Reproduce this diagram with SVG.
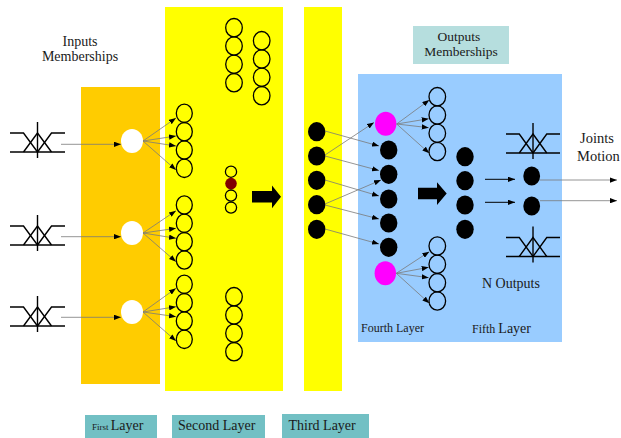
<svg xmlns="http://www.w3.org/2000/svg" width="621" height="438" viewBox="0 0 621 438">
  <style>
    .lbl { font-family: "Liberation Serif", "Times New Roman", serif; fill: #1a1a1a; }
    .ring { fill: none; stroke: #000; stroke-width: 1.3; }
    .dot { fill: #000; }
    .mf path { fill: none; stroke: #000; stroke-width: 1.4; }
    .link { stroke: #7a7a7a; stroke-width: 0.8; fill: none; marker-end: url(#tip); }
    .feed { stroke: #000; stroke-width: 1; fill: none; marker-end: url(#tip); }
    .tag { fill: #72c0c4; }
  </style>
  <defs>
    <marker id="tip" viewBox="0 0 8 6" refX="8" refY="3" markerWidth="7" markerHeight="5.5" markerUnits="userSpaceOnUse" orient="auto">
      <path d="M0,0 L8,3 L0,6 Z" fill="#000"/>
    </marker>
    <!-- three overlapping membership functions (Z, triangle, S) -->
    <g id="mf" class="mf">
      <path d="M0,0 H13.5 L27.5,19"/>
      <path d="M13.5,19 L27.5,0 L41.5,19"/>
      <path d="M27.5,19 L41.5,0 H55"/>
      <path d="M0,19 H55"/>
      <path d="M27.5,-11 V25"/>
    </g>
  </defs>

  <rect width="621" height="438" fill="#fff"/>

  <!-- layer panels -->
  <g id="panel-first"><rect x="81" y="87" width="79" height="297" fill="#ffcc00"/></g>
  <g id="panel-second"><rect x="165" y="7" width="118" height="384" fill="#ffff00"/></g>
  <g id="panel-third"><rect x="304" y="7" width="38" height="384" fill="#ffff00"/></g>
  <g id="panel-out"><rect x="358" y="74" width="204" height="268" fill="#99ccff"/></g>

  <!-- input membership labels and symbols -->
  <g id="inputs">
    <text class="lbl" x="80" y="46" font-size="14" text-anchor="middle">Inputs</text>
    <text class="lbl" x="80" y="61" font-size="14" text-anchor="middle">Memberships</text>
    <use href="#mf" transform="translate(10,133)"/>
    <use href="#mf" transform="translate(10,226)"/>
    <use href="#mf" transform="translate(10,307)"/>
  </g>

  <!-- first layer nodes -->
  <g id="first-layer">
    <ellipse cx="132" cy="141" rx="11" ry="12" fill="#fff"/>
    <ellipse cx="132" cy="233" rx="11" ry="12" fill="#fff"/>
    <ellipse cx="132" cy="312" rx="11" ry="12" fill="#fff"/>
  </g>

  <!-- second layer nodes -->
  <g id="second-layer" class="ring">
    <ellipse cx="184.3" cy="113.3" rx="8" ry="9.2"/>
    <ellipse cx="184.3" cy="131.7" rx="8" ry="9.2"/>
    <ellipse cx="184.3" cy="150" rx="8" ry="9.2"/>
    <ellipse cx="184.3" cy="168.3" rx="8" ry="9.2"/>
    <ellipse cx="184.3" cy="205" rx="8" ry="9.2"/>
    <ellipse cx="184.3" cy="223.3" rx="8" ry="9.2"/>
    <ellipse cx="184.3" cy="241.7" rx="8" ry="9.2"/>
    <ellipse cx="184.3" cy="260" rx="8" ry="9.2"/>
    <ellipse cx="184.3" cy="284.3" rx="8" ry="9.2"/>
    <ellipse cx="184.3" cy="302.7" rx="8" ry="9.2"/>
    <ellipse cx="184.3" cy="321" rx="8" ry="9.2"/>
    <ellipse cx="184.3" cy="339.3" rx="8" ry="9.2"/>

    <ellipse cx="234" cy="27.7" rx="8.3" ry="9.2"/>
    <ellipse cx="234" cy="46" rx="8.3" ry="9.2"/>
    <ellipse cx="234" cy="64.3" rx="8.3" ry="9.2"/>
    <ellipse cx="234" cy="82.7" rx="8.3" ry="9.2"/>
    <ellipse cx="261.7" cy="40.7" rx="8.3" ry="9.2"/>
    <ellipse cx="261.7" cy="59" rx="8.3" ry="9.2"/>
    <ellipse cx="261.7" cy="77.3" rx="8.3" ry="9.2"/>
    <ellipse cx="261.7" cy="95.7" rx="8.3" ry="9.2"/>

    <ellipse cx="234" cy="296.7" rx="8.3" ry="9.2"/>
    <ellipse cx="234" cy="315" rx="8.3" ry="9.2"/>
    <ellipse cx="234" cy="333.3" rx="8.3" ry="9.2"/>
    <ellipse cx="234" cy="351.7" rx="8.3" ry="9.2"/>

    <circle cx="231" cy="171.7" r="5.6"/>
    <circle cx="231" cy="183.6" r="5.8" fill="#800000" stroke="none"/>
    <circle cx="231" cy="195.6" r="5.6"/>
    <circle cx="231" cy="207.6" r="5.6"/>
  </g>

  <!-- block arrows -->
  <g id="arrow-a"><path d="M252,191 H272 V185.5 L281,196.8 L272,208.2 V202.6 H252 Z" fill="#000"/></g>
  <g id="arrow-b"><path d="M418,187.7 H437 V182.2 L446.7,193.5 L437,205 V199.3 H418 Z" fill="#000"/></g>

  <!-- third layer nodes -->
  <g id="third-layer" class="dot">
    <ellipse cx="316.7" cy="131.7" rx="8.7" ry="9.6"/>
    <ellipse cx="316.7" cy="156" rx="8.7" ry="9.6"/>
    <ellipse cx="316.7" cy="180.3" rx="8.7" ry="9.6"/>
    <ellipse cx="316.7" cy="204.7" rx="8.7" ry="9.6"/>
    <ellipse cx="316.7" cy="229.3" rx="8.7" ry="9.6"/>
  </g>

  <!-- fourth layer nodes -->
  <g id="fourth-layer">
    <ellipse cx="385.7" cy="123.7" rx="10.7" ry="12" fill="#ff00ff"/>
    <g class="dot">
      <ellipse cx="388.7" cy="150" rx="8.7" ry="9.6"/>
      <ellipse cx="388.7" cy="174.3" rx="8.7" ry="9.6"/>
      <ellipse cx="388.7" cy="199" rx="8.7" ry="9.6"/>
      <ellipse cx="388.7" cy="223" rx="8.7" ry="9.6"/>
      <ellipse cx="388.7" cy="247.3" rx="8.7" ry="9.6"/>
    </g>
    <ellipse cx="385.3" cy="273.3" rx="10.7" ry="12" fill="#ff00ff"/>
    <g class="ring">
      <ellipse cx="437.3" cy="96.7" rx="8.3" ry="9.2"/>
      <ellipse cx="437.3" cy="115" rx="8.3" ry="9.2"/>
      <ellipse cx="437.3" cy="133.3" rx="8.3" ry="9.2"/>
      <ellipse cx="437.3" cy="151.5" rx="8.3" ry="9.2"/>
      <ellipse cx="437.3" cy="246" rx="8.3" ry="9.2"/>
      <ellipse cx="437.3" cy="264.3" rx="8.3" ry="9.2"/>
      <ellipse cx="437.3" cy="282.7" rx="8.3" ry="9.2"/>
      <ellipse cx="437.3" cy="301" rx="8.3" ry="9.2"/>
    </g>
  </g>

  <!-- fifth layer nodes -->
  <g id="fifth-layer" class="dot">
    <ellipse cx="465" cy="156.7" rx="8.7" ry="9.6"/>
    <ellipse cx="465" cy="180.7" rx="8.7" ry="9.6"/>
    <ellipse cx="465" cy="205" rx="8.7" ry="9.6"/>
    <ellipse cx="465" cy="229.3" rx="8.7" ry="9.6"/>
  </g>

  <!-- output nodes and membership symbols -->
  <g id="outputs">
    <ellipse class="dot" cx="531.7" cy="176" rx="8.4" ry="9.6"/>
    <ellipse class="dot" cx="531.7" cy="206" rx="8.4" ry="9.6"/>
    <use href="#mf" transform="translate(506,134) scale(0.982,1)"/>
    <use href="#mf" transform="translate(506,237.5) scale(0.982,1)"/>
  </g>

  <!-- connectors -->
  <g id="connectors">
    <line class="link" x1="61" y1="144.3" x2="121" y2="144.3"/>
    <line class="link" x1="61" y1="236.7" x2="121" y2="236.7"/>
    <line class="link" x1="61" y1="317.3" x2="121" y2="317.3"/>

    <line class="link" x1="143" y1="141" x2="176" y2="118"/>
    <line class="link" x1="143" y1="141" x2="176" y2="136"/>
    <line class="link" x1="143" y1="141" x2="176" y2="146"/>
    <line class="link" x1="143" y1="141" x2="176" y2="170"/>
    <line class="link" x1="143" y1="233" x2="176" y2="210.7"/>
    <line class="link" x1="143" y1="233" x2="176" y2="228.3"/>
    <line class="link" x1="143" y1="233" x2="176" y2="238.3"/>
    <line class="link" x1="143" y1="233" x2="176" y2="261.7"/>
    <line class="link" x1="143" y1="312" x2="176" y2="288.3"/>
    <line class="link" x1="143" y1="312" x2="176" y2="306.7"/>
    <line class="link" x1="143" y1="312" x2="176" y2="316.7"/>
    <line class="link" x1="143" y1="312" x2="176" y2="341"/>

    <line class="link" x1="325" y1="131" x2="379" y2="146"/>
    <line class="link" x1="325" y1="155" x2="374" y2="122.5"/>
    <line class="link" x1="325" y1="156" x2="379" y2="170.5"/>
    <line class="link" x1="325" y1="180" x2="379" y2="196"/>
    <line class="link" x1="325" y1="204" x2="381" y2="180"/>
    <line class="link" x1="325" y1="205" x2="379" y2="219"/>
    <line class="link" x1="325" y1="229" x2="379" y2="244"/>

    <line class="link" x1="396.7" y1="124" x2="429.3" y2="100"/>
    <line class="link" x1="396.7" y1="124" x2="428.7" y2="118.7"/>
    <line class="link" x1="396.7" y1="124" x2="428.7" y2="127.7"/>
    <line class="link" x1="396.7" y1="124" x2="429.3" y2="153.3"/>
    <line class="link" x1="396.3" y1="273.3" x2="429.3" y2="251.7"/>
    <line class="link" x1="396.3" y1="273.3" x2="428.7" y2="267.3"/>
    <line class="link" x1="396.3" y1="273.3" x2="428.7" y2="277.7"/>
    <line class="link" x1="396.3" y1="273.3" x2="429.3" y2="303.3"/>

    <line class="feed" x1="485" y1="179.3" x2="515" y2="179.3"/>
    <line class="feed" x1="485" y1="202.3" x2="515" y2="202.3"/>

    <line class="link" x1="540" y1="180" x2="617" y2="180"/>
    <line class="link" x1="540" y1="200.7" x2="617" y2="200.7"/>
  </g>

  <!-- panel captions -->
  <g id="cap-outputs">
    <rect x="413" y="26" width="96" height="38" fill="#b6dede"/>
    <text class="lbl" x="459" y="41" font-size="13.5" text-anchor="middle">Outputs</text>
    <text class="lbl" x="461" y="56" font-size="13.5" text-anchor="middle">Memberships</text>
  </g>
  <g id="cap-joints">
    <text class="lbl" x="580" y="143" font-size="14.5">Joints</text>
    <text class="lbl" x="577" y="161" font-size="14.5">Motion</text>
  </g>
  <g id="cap-fourth"><text class="lbl" x="361" y="332" font-size="12">Fourth Layer</text></g>
  <g id="cap-fifth"><text class="lbl" x="472" y="333" font-size="12">Fifth <tspan font-size="14">Layer</tspan></text></g>
  <g id="cap-n"><text class="lbl" x="482" y="288" font-size="14">N Outputs</text></g>

  <g id="tag-first">
    <rect class="tag" x="85" y="415" width="72" height="23"/>
    <text class="lbl" x="92" y="430" font-size="9">First <tspan font-size="14">Layer</tspan></text>
  </g>
  <g id="tag-second">
    <rect class="tag" x="172" y="415" width="93" height="23"/>
    <text class="lbl" x="178" y="430" font-size="14">Second Layer</text>
  </g>
  <g id="tag-third">
    <rect class="tag" x="282" y="414" width="87" height="24"/>
    <text class="lbl" x="288.5" y="430" font-size="14">Third Layer</text>
  </g>
</svg>
